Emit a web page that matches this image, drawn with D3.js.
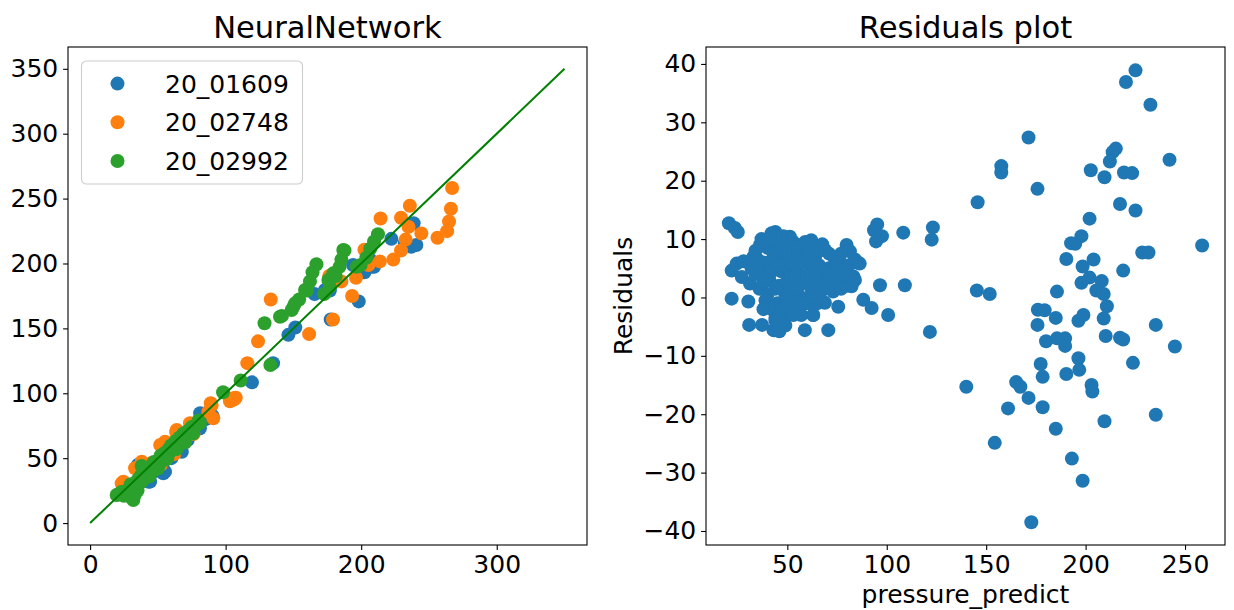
<!DOCTYPE html>
<html><head><meta charset="utf-8">
<script src="https://cdn.jsdelivr.net/npm/d3@7"></script>
<style>
body{margin:0;background:#fff}
text{font-family:"DejaVu Sans",sans-serif;fill:#000}
</style>
</head><body>
<svg id="chart" width="1234" height="610"></svg>
<script>
// ---------- data ----------
const seriesNames = ["20_01609", "20_02748", "20_02992"];
const seriesColors = ["#1f77b4", "#ff7f0e", "#2ca02c"];

// [actual, predicted]
const series01609 = [
  [238.7,231],[222.3,219],[237,212.8],[240.7,214.2],[232.2,215.6],[209.5,197.4],[202.4,193.2],[206.7,203],
  [198.2,170.8],[177.5,156.8],[151.4,150.7],[146.3,145],[135,123.2],[119.4,108.4],[165.6,176.4],[176.9,179.2],
  [173.3,179.6],[194,198.8],[207.8,197.5],[90.4,82.6],[88,86],[81.2,84.6],[81,73],[80.5,72.8],[75,70],[70,66],[67.7,55],
  [66.3,56],[62,58],[58,52],[54,38.3],[55.3,39.6],[53.6,42],[50,45],[46,42],[42.9,31.9],[44.3,31.9],[42.2,36.4],[40,38],[35.2,44.8],
  [38,40],[48,40],[60,50],[72,64],[85,80],[30,28],[25,24]
];
const series02748 = [
  [267.1,258.2],[266.2,242.2],[264.8,232.4],[263.4,224.9],[256.3,219.8],[244.4,223.2],[235.9,244.5],[229.4,235.2],
  [235,228.2],[232.8,218.4],[229.4,210],[223.7,203],[214.3,234.7],[213.8,201.6],[202.4,210.6],[205.3,198.8],
  [196.2,189],[193.3,175],[185.4,186.2],[176.4,190.4],[179.2,156.8],[161.6,145.6],[133.3,172.2],[123.9,140],
  [116,123.2],[106,95.2],[103.2,93.8],[107.5,96.6],[105.6,96.1],[89.7,91],[87.2,85.8],[90.9,80.7],[89,92.4],
  [73.7,76.9],[72,70],[63.9,71.7],[63.5,70],[55.3,62.7],[51.7,60.1],[62.1,53.2],[52.2,44.8],[38.1,47.3],
  [33.2,42.2],[38,43.4],[24.5,31.9],[23.3,30.6],[76.3,68.6],[68,66],[58,56],[45,46],[80,78]
];
const series02992 = [
  [212.4,222.6],[209.5,217],[206.7,211.4],[203.8,204.4],[199.6,198.8],[196.7,197.5],[187.7,210],[186.8,210.4],
  [185.4,203],[184,197.4],[181.2,190.4],[179.4,192.4],[176.9,182],[175.8,187.3],[172.7,176.4],[167,199.4],
  [164.1,193.2],[162.2,186.2],[160,179.2],[158.6,179.6],[154.2,172.2],[151.2,169.3],[150,166.6],[148.7,164.2],
  [141.5,159.6],[140.1,159],[128.7,154],[133,121.8],[111.1,109.8],[98.1,100.8],
  [81,77],[80,79],[78,75],[76,72],[75,74],[73,69],[72,71],[70,67],[69,69],[68,64],[66,66],[65,61],[63,63],
  [62,58],[60,60],[59,55],[58,57],[56,49],[55,54],[54,50],[52,52],[51,45],[50,48],[48,43],[47,47],[46,40],
  [45,44],[43,39],[42,42],[41,35],[40,38],[38,32],[37,36],[36,30],[35,33],[34,28],[33,22],[32,19.5],[31,26],
  [30,20],[27,25],[25,21],[23,24],[20.5,22],
  [44,36],[50,42],[57,50],[64,57],[70,62],[38,44],[30,30],[31.9,17.8],[35,25],[76,69],[19.6,21.6]
];
const identityLine = [0, 350];

// [pressure_predict, residual]
const residuals = [
  [20.6,12.7],[23.6,11.9],[25.1,11.2],[22,4.6],[22,-0.2],[30.8,-4.7],[30.4,-0.7],[24.5,5.8],[27.1,3.5],[31.2,2.4],
  [28,6.2],[33,7],[36.2,9],[34,4],[36,1.5],[38,6],[40,8.5],[42.1,11],[43,9],[44,6],[41,3],[39,-0.5],[42,-2],
  [44,-3.5],[43,-5.6],[46,-4.5],[45,-1],[46,2],[47,4.5],[48,7],[50,9.5],[51.3,10.4],[52.7,9.6],[49,0.5],[50,3],
  [52,5.5],[53,7.5],[54,1],[55,-1.5],[56,4],[57,8],[58.8,-5.6],[59,2.5],[60,6],[61,-1],[62,4.5],[63,-3],[64,7],
  [65,2],[66,5.5],[67.6,9.1],[69,8.1],[68,3.5],[68.9,-0.9],[70.6,-5.6],[71,5],[72,1.5],[74,6.5],[75.6,-1.6],
  [76,3],[78,5.5],[79.8,9],[81.5,7.9],[80,2],[83.2,3.6],[82.3,1.9],[85.7,5.9],[37.3,-4.7],[43.5,-5.6],
  [48,-2.5],[53,-1],[40,4.5],[45,10],[55,9],[60,9],[35,6.5],[32,5],[57,0],[65,-1],[73,3.5],[77,7.5],[47,8],
  [41,6],[56,6],[51,5],[44,1.5],[62,1.5],[66,0],[70,2.5],[63,-3],[38,2.5],[48,-4],[54,4],
  [34,8],[37,10],[39,9.5],[41,10],[44,11.2],[46,9],[48,10.5],[50,6],[52,2.5],[53,-3],[55,6.5],[57,3],[58,6],
  [59,9.5],[61,7.5],[62,9.8],[64,4],[66,8],[67,1],[70,4.5],[71,7.5],[73,1],[75,5],[77,1.5],[79,4],[81,5.5],
  [84,6.5],[36,4],[38,-2],[40,0.5],[42,4.5],[44,-1.5],[45,5.5],[47,-2],[49,-4.8],[50,-1.5],[51,1],[53,3.5],
  [55,1.5],[57,-3],[59,-1],[60,3.5],[63,0.5],[43,7.5],[39,3],[49,8],[54,8.5],[46,-5.8],[44,-4],
  [88.2,-0.4],[92.4,-1.8],[100.7,-3],[96.6,2.1],[109.1,2.1],[121.7,-5.9],[122.6,9.9],[123.2,12],[108.3,11.1],
  [95.2,12.5],[93.6,11.5],[97.6,10.5],[94.6,9.6],[86.4,5.8],[84,3],
  [225.1,38.9],[220.3,36.9],[232.6,33],[171.3,27.4],[242.2,23.6],[215.2,25.5],[213.6,24.9],[212.2,23.3],
  [157.6,22.5],[157.6,21.4],[202.6,21.8],[219.3,21.4],[223.4,21.3],[209.5,20.6],[175.8,18.6],[217.3,16],
  [225.1,14.9],[145.7,16.3],[202,13.5],[197.9,10.5],[192.7,9.3],[194.8,9.2],[258.6,8.9],[228.5,7.7],[231.6,7.7],
  [190.3,6.6],[204,6.5],[198.5,5.3],[218.9,4.6],[202,3.4],[208.1,2.8],[197.9,2.5],[205.4,1.2],[209.1,0.6],
  [185.6,1],[145.3,1.2],[151.8,0.6],[210.7,-1.5],[176,-2.1],[179.4,-2.2],[185,-3.5],[209.1,-3.6],[196.4,-4],
  [198.9,-3],[235.3,-4.7],[175.8,-4.7],[180.1,-7.5],[185.6,-7],[189.7,-7],[189.7,-8.3],[210.1,-6.6],
  [217.3,-6.9],[218.9,-7.2],[244.9,-8.4],[177.4,-11.4],[196.4,-10.4],[196.8,-12.4],[178.4,-13.6],[190.3,-13.1],
  [223.8,-11.2],[140,-15.3],[165.1,-14.5],[167.2,-15.3],[203,-15],[203.4,-16.1],[171.3,-17.2],[161,-19],
  [178.4,-18.8],[185,-22.5],[209.5,-21.2],[235.3,-20.1],[154.3,-24.9],[193.1,-27.6],[198.5,-31.4],[172.7,-38.5]
];

const leftXTicks = [0, 100, 200, 300];
const leftYTicks = [0, 50, 100, 150, 200, 250, 300, 350];
const rightXTicks = [50, 100, 150, 200, 250];
const rightYTicks = [-40, -30, -20, -10, 0, 10, 20, 30, 40];

// ---------- drawing ----------
const svg = d3.select("#chart");
const FS = 25, TFS = 30.6, R = 7;
const minus = d => String(d).replace("-", "\u2212");

function frame(g, x0, x1, y0, y1) {
  g.append("rect").attr("x", x0).attr("y", y0).attr("width", x1 - x0).attr("height", y1 - y0)
    .attr("fill", "none").attr("stroke", "#000").attr("stroke-width", 1.1);
}
function styleAxis(sel) {
  sel.select(".domain").remove();
  sel.selectAll(".tick line").attr("stroke", "#000").attr("stroke-width", 1.1);
  sel.selectAll(".tick text").style("font-size", FS + "px").style("font-family", "DejaVu Sans").attr("fill", "#000");
}

// Left panel
const L = {x0: 68, x1: 587, y0: 47, y1: 545};
const lx = d3.scaleLinear().domain([-16.3, 366.6]).range([L.x0, L.x1]);
const ly = d3.scaleLinear().domain([-16.9, 366.8]).range([L.y1, L.y0]);
const gl = svg.append("g");

const allSeries = [series01609, series02748, series02992];
allSeries.forEach((s, i) => {
  gl.append("g").selectAll("circle").data(s).join("circle")
    .attr("cx", d => lx(d[0])).attr("cy", d => ly(d[1])).attr("r", R)
    .attr("fill", seriesColors[i]);
});
gl.append("path").datum(identityLine)
  .attr("d", d3.line().x(d => lx(d)).y(d => ly(d)))
  .attr("stroke", "#008000").attr("stroke-width", 2).attr("fill", "none");

gl.append("g").attr("transform", `translate(0,${L.y1})`)
  .call(d3.axisBottom(lx).tickValues(leftXTicks).tickSize(4.9).tickPadding(4.9)).call(styleAxis);
gl.append("g").attr("transform", `translate(${L.x0},0)`)
  .call(d3.axisLeft(ly).tickValues(leftYTicks).tickSize(4.9).tickPadding(4.9)).call(styleAxis);
frame(gl, L.x0, L.x1, L.y0, L.y1);
gl.append("text").attr("x", (L.x0 + L.x1) / 2).attr("y", L.y0 - 9.5).attr("text-anchor", "middle")
  .style("font-size", TFS + "px").text("NeuralNetwork");

// legend
const lg = gl.append("g");
lg.append("rect").attr("x", 81.5).attr("y", 61).attr("width", 221).attr("height", 123).attr("rx", 5)
  .attr("fill", "#fff").attr("fill-opacity", 0.8).attr("stroke", "#cccccc").attr("stroke-width", 1.1);
seriesNames.forEach((n, i) => {
  const yy = 83.6 + i * 38.7;
  lg.append("circle").attr("cx", 117.5).attr("cy", yy).attr("r", R).attr("fill", seriesColors[i]);
  lg.append("text").attr("x", 165).attr("y", yy + 9).style("font-size", FS + "px").text(n);
});

// Right panel
const Rp = {x0: 706, x1: 1225, y0: 47, y1: 545};
const rx = d3.scaleLinear().domain([9.1, 270.1]).range([Rp.x0, Rp.x1]);
const ry = d3.scaleLinear().domain([-42.4, 42.9]).range([Rp.y1, Rp.y0]);
const gr = svg.append("g");
gr.append("g").selectAll("circle").data(residuals).join("circle")
  .attr("cx", d => rx(d[0])).attr("cy", d => ry(d[1])).attr("r", R).attr("fill", seriesColors[0]);
gr.append("g").attr("transform", `translate(0,${Rp.y1})`)
  .call(d3.axisBottom(rx).tickValues(rightXTicks).tickSize(4.9).tickPadding(4.9)).call(styleAxis);
gr.append("g").attr("transform", `translate(${Rp.x0},0)`)
  .call(d3.axisLeft(ry).tickValues(rightYTicks).tickSize(4.9).tickPadding(4.9).tickFormat(minus)).call(styleAxis);
frame(gr, Rp.x0, Rp.x1, Rp.y0, Rp.y1);
gr.append("text").attr("x", (Rp.x0 + Rp.x1) / 2).attr("y", Rp.y0 - 9.5).attr("text-anchor", "middle")
  .style("font-size", TFS + "px").text("Residuals plot");
gr.append("text").attr("x", (Rp.x0 + Rp.x1) / 2).attr("y", 603).attr("text-anchor", "middle")
  .style("font-size", FS + "px").text("pressure_predict");
gr.append("text").attr("transform", `translate(632,${(Rp.y0 + Rp.y1) / 2}) rotate(-90)`)
  .attr("text-anchor", "middle").style("font-size", FS + "px").text("Residuals");
</script>
</body></html>
